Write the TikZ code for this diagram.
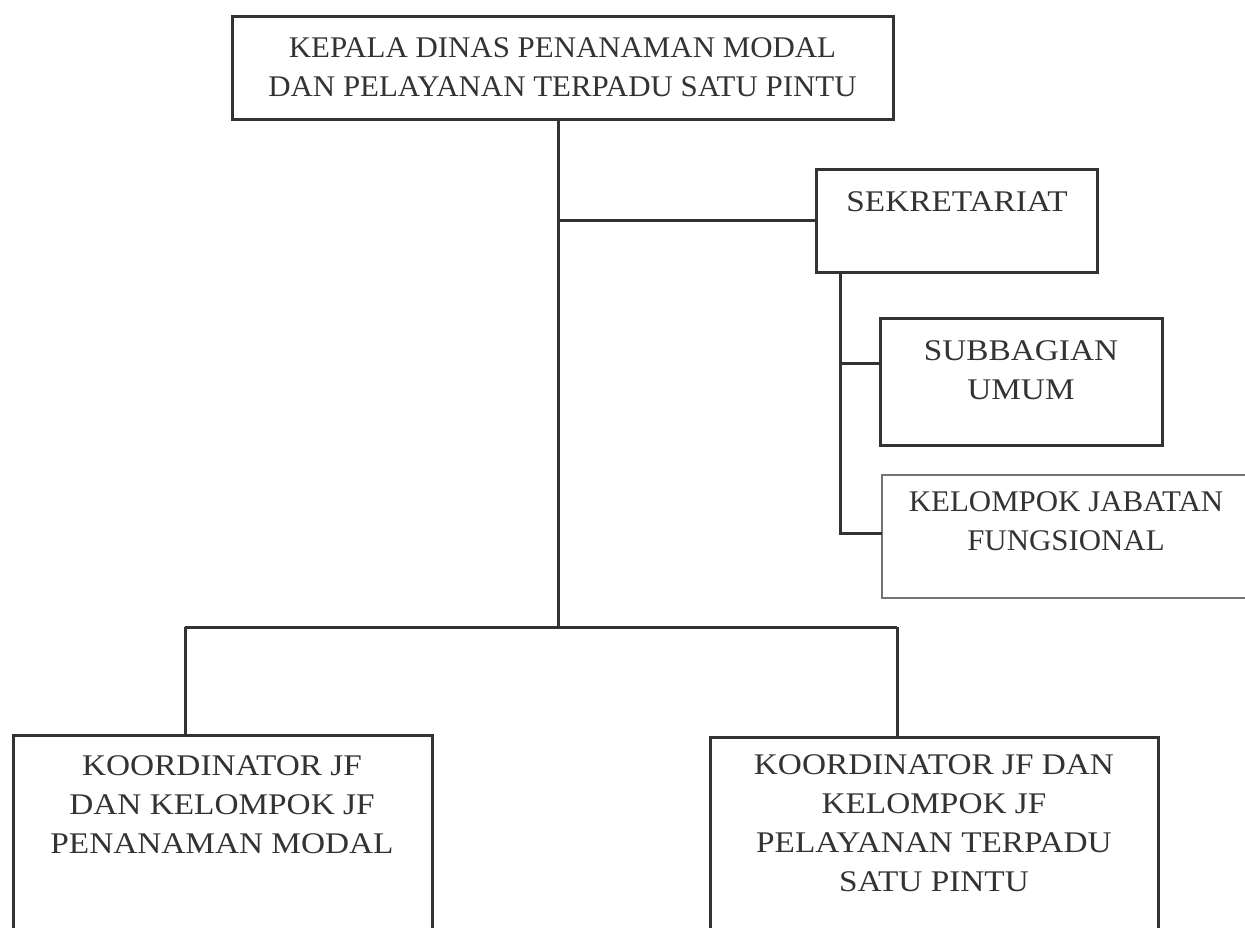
\documentclass[tikz,border=0pt]{standalone}
\usepackage{fontspec}
\setmainfont{Liberation Serif}[FakeStretch=1.03]
\newfontfamily\widefont{Liberation Serif}[FakeStretch=1.11]
\begin{document}
\begin{tikzpicture}[x=1pt,y=-1pt,
  line join=miter,
  box/.style={draw=black!80, line width=3pt, rectangle, inner sep=0pt, outer sep=0pt},
  lightbox/.style={draw=black!55, line width=2pt, rectangle, inner sep=0pt, outer sep=0pt},
  link/.style={draw=black!80, line width=3pt},
  lbl/.style={align=center, text=black!80, inner sep=0pt,
    font=\fontsize{30}{39}\selectfont},
  widelbl/.style={lbl, font=\fontsize{30}{39}\selectfont\widefont}
]
\useasboundingbox (0,0) rectangle (1245,927);
\clip (0,0) rectangle (1245,927);

% boxes
\node[box, minimum width=661pt, minimum height=103pt] (kepala) at (562.5,67.5) {};
\node[box, minimum width=281pt, minimum height=103pt] (sek) at (956.5,220.5) {};
\node[box, minimum width=282pt, minimum height=127pt] (sub) at (1021,381.5) {};
\node[lightbox, minimum width=383pt, minimum height=123pt] (kjf) at (1073.5,536.5) {};
\node[box, minimum width=419pt, minimum height=225pt] (kiri) at (222.5,847.5) {};
\node[box, minimum width=448pt, minimum height=223pt] (kanan) at (934,848.5) {};

% labels
\node[lbl] (kepalaT) at (562.5,67.5) {KEPALA DINAS PENANAMAN MODAL\\DAN PELAYANAN TERPADU SATU PINTU};
\node[widelbl] (sekT) at (957,202) {SEKRETARIAT};
\node[widelbl] (subT) at (1021,370) {SUBBAGIAN\\UMUM};
\node[lbl] (kjfT) at (1066,521.5) {KELOMPOK JABATAN\\FUNGSIONAL};
\node[widelbl] (kiriT) at (222,805) {KOORDINATOR JF\\DAN KELOMPOK JF\\PENANAMAN MODAL};
\node[widelbl] (kananT) at (934,823) {KOORDINATOR JF DAN\\KELOMPOK JF\\PELAYANAN TERPADU\\SATU PINTU};

% junction points
\coordinate (j1) at (558,220);
\coordinate (j2) at (558,627);
\coordinate (bl) at (185,627);
\coordinate (br) at (897,627);
\coordinate (sv) at (840,533);
\coordinate (sb) at (840,363);

% connectors
\draw[link] (kepala.south -| j1) -- (j2);
\draw[link] (j1) -- (sek.west |- j1);
\draw[link] (bl) -- (br);
\draw[link] (bl) -- (bl |- kiri.north);
\draw[link] (br) -- (br |- kanan.north);
\draw[link] (sv |- sek.south) -- (sv) -- (sv -| kjf.west);
\draw[link] (sb) -- (sb -| sub.west);
\end{tikzpicture}
\end{document}
